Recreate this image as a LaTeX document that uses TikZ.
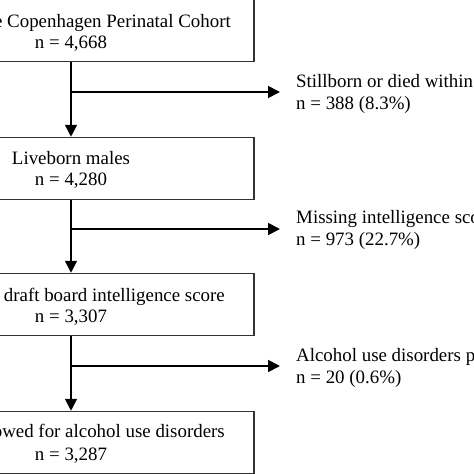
\documentclass[tikz,border=0pt]{standalone}
\usepackage{fontspec}
\setmainfont{Liberation Serif}
\usetikzlibrary{arrows.meta}

\begin{document}
\begin{tikzpicture}[x=1pt,y=-1pt,
    box/.style={draw=black!80,line width=1.5pt,minimum width=366pt,minimum height=62pt,inner sep=0pt},
    txt/.style={font=\fontsize{18.9}{22}\selectfont,inner sep=0pt},
    flow/.style={line width=1.8pt,-{Triangle[length=12pt,width=12pt]}}]
    \useasboundingbox (0,0) rectangle (474,474);
    \clip (0,0) rectangle (474,474);
    \node[box] (b1) at (71,30.5) {};
    \node[box] (b2) at (71,168.5) {};
    \node[box] (b3) at (71,304.5) {};
    \node[box] (b4) at (71,442.5) {};
    \node[txt,anchor=base east] (t1) at (231,27) {e Copenhagen Perinatal Cohort};
    \node[txt,anchor=base] (n1) at (71,48) {n = 4,668};
    \node[txt,anchor=base] (t2) at (71,164) {Liveborn males};
    \node[txt,anchor=base] (n2) at (71,185) {n = 4,280};
    \node[txt,anchor=base east] (t3) at (225,301) {draft board intelligence score};
    \node[txt,anchor=base] (n3) at (71,322) {n = 3,307};
    \node[txt,anchor=base east] (t4) at (225,437) {owed for alcohol use disorders};
    \node[txt,anchor=base] (n4) at (71,460) {n = 3,287};
    \node[txt,anchor=base west] (x1) at (296,87) {Stillborn or died within};
    \node[txt,anchor=base west] (m1) at (296,109) {n = 388 (8.3\%)};
    \node[txt,anchor=base west] (x2) at (296,223) {Missing intelligence sco};
    \node[txt,anchor=base west] (m2) at (296,245) {n = 973 (22.7\%)};
    \node[txt,anchor=base west] (x3) at (296,361) {Alcohol use disorders p};
    \node[txt,anchor=base west] (m3) at (296,383) {n = 20 (0.6\%)};
    \coordinate (j1) at (71,92);
    \coordinate (e1) at (280,92);
    \coordinate (j2) at (71,229);
    \coordinate (e2) at (280,229);
    \coordinate (j3) at (71,366);
    \coordinate (e3) at (280,366);
    \draw[flow] (b1.south) -- (b2.north);
    \draw[flow] (b2.south) -- (b3.north);
    \draw[flow] (b3.south) -- (b4.north);
    \draw[flow] (j1) -- (e1);
    \draw[flow] (j2) -- (e2);
    \draw[flow] (j3) -- (e3);
\end{tikzpicture}
\end{document}
